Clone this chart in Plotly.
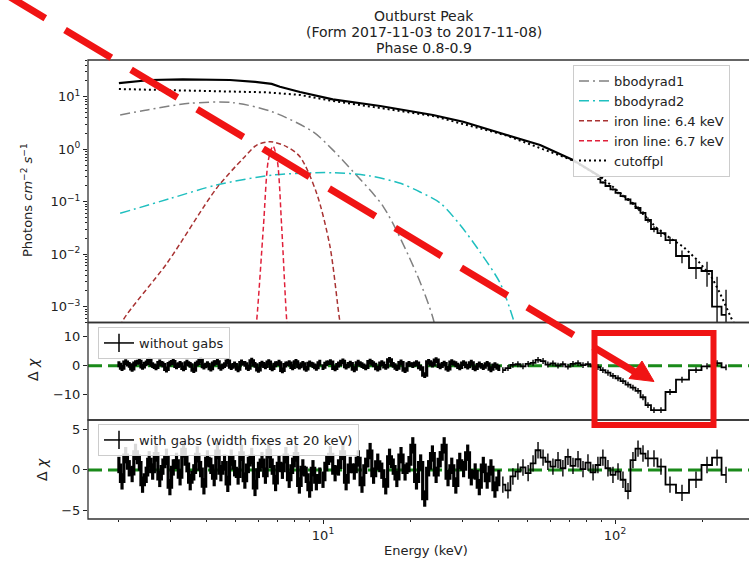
import plotly.graph_objects as go

# ---------------- data ----------------
# Top panel: model components (Energy keV -> photons cm^-2 s^-1)
total_E = [2.0, 2.56, 3.31, 4.8, 5.86, 6.67, 7.12, 8.34, 10.8, 15.7, 23.8, 30.2, 42.6, 55.4, 71.8, 90.9]
total_F = [18.2, 20.8, 21.4, 20.8, 19.1, 17.5, 15.5, 12.3, 8.9, 6.65, 4.48, 3.34, 1.86, 1.20, 0.622, 0.279]

cutoffpl_E = [2.0, 3.79, 6.42, 8.34, 10.8, 15.7, 23.8, 42.6, 71.8, 90.9, 115, 139, 154, 171, 191, 214, 229, 250, 268]
cutoffpl_F = [14.0, 12.85, 12.1, 10.8, 8.28, 6.10, 4.29, 1.82, 0.609, 0.277, 0.0925, 0.0316, 0.0204,
              0.014, 0.0078, 0.0037, 0.0018, 0.00061, 0.0003]

bb1_E = [2.02, 2.5, 3.5, 4.92, 6.67, 9.24, 10.8, 12.7, 16.1, 20.9, 23.8, 25.5]
bb1_F = [4.48, 5.6, 7.5, 7.7, 5.2, 2.15, 0.97, 0.37, 0.080, 0.0043, 0.00061, 0.0001]

bb2_E = [2.02, 3.0, 4.32, 6.76, 10.8, 14.5, 18.4, 21.5, 25.2, 29.5, 34.5, 40.4, 44.7, 47.3]
bb2_F = [0.060, 0.115, 0.208, 0.323, 0.357, 0.31, 0.224, 0.153, 0.0944, 0.036, 0.011, 0.00283, 0.00061, 0.0002]

fe64_E = [1.98, 2.07, 2.92, 4.32, 5.33, 5.93, 6.6, 7.5, 8.34, 9.51, 10.57, 11.4, 12.0]
fe64_F = [0.0003, 0.00056, 0.0067, 0.18, 0.67, 1.2, 1.39, 1.12, 0.72, 0.145, 0.0139, 0.00056, 0.0001]

fe67_E = [5.8, 5.93, 6.25, 6.5, 6.74, 6.97, 7.22, 7.51, 7.65]
fe67_F = [0.0002, 0.00056, 0.033, 0.62, 1.15, 0.62, 0.033, 0.00056, 0.0002]

# Top panel: high-energy data bins
hed_E = [87.4, 90.9, 94.6, 98.4, 102.4, 106.5, 110.8, 115.2, 119.9, 124.7, 129.7, 136.0, 143.7,
         154.3, 169.6, 189.4, 206.6, 223.6, 240.0]
hed_F = [0.27, 0.232, 0.199, 0.171, 0.147, 0.128, 0.110, 0.0925, 0.0759, 0.061, 0.0448, 0.0302, 0.0253,
         0.0186, 0.00925, 0.00546, 0.00479, 0.0010, 0.0007]
hed_err_hi = [0.01, 0.01, 0.009, 0.008, 0.008, 0.007, 0.007, 0.006, 0.006, 0.005, 0.005, 0.004, 0.004,
              0.003, 0.0025, 0.0023, 0.0024, 0.0027, 0.0014]
hed_err_lo = [0.01, 0.01, 0.009, 0.008, 0.008, 0.007, 0.007, 0.006, 0.006, 0.005, 0.005, 0.004, 0.004,
              0.003, 0.0025, 0.0021, 0.0024, 0.00099, 0.00069]

# Residual panels: energies of the bins
le_E = [2.00, 2.05, 2.11, 2.17, 2.22, 2.28, 2.35, 2.41, 2.48, 2.54, 2.61, 2.68, 2.76, 2.83, 2.91,
        2.99, 3.07, 3.15, 3.24, 3.33, 3.42, 3.51, 3.61, 3.71, 3.81, 3.91, 4.02, 4.13, 4.24, 4.35,
        4.47, 4.60, 4.72, 4.85, 4.98, 5.12, 5.26, 5.40, 5.55, 5.70, 5.85, 6.01, 6.18, 6.35, 6.52,
        6.70, 6.88, 7.07, 7.26, 7.46, 7.66, 7.87, 8.08, 8.30, 8.53, 8.76, 9.00, 9.24, 9.49, 9.75]
me_E = [10.0, 10.3, 10.6, 11.0, 11.3, 11.7, 12.0, 12.4, 12.8, 13.2, 13.6, 14.0, 14.5, 14.9, 15.4,
        15.9, 16.4, 16.9, 17.4, 17.9, 18.5, 19.1, 19.7, 20.3, 20.9, 21.6, 22.3, 23.0, 23.7, 24.4,
        25.2, 26.0, 26.8, 27.6, 28.5, 29.4, 30.3, 31.3, 32.2, 33.2, 34.3, 35.4, 36.5, 37.6, 38.8, 40.0]
he_E = [41.3, 43.0, 44.7, 46.5, 48.4, 50.4, 52.4, 54.5, 56.7, 58.9, 61.3, 63.8, 66.3, 69.0, 71.8,
        74.7, 77.7, 80.8, 84.1, 87.4, 90.9, 94.6, 98.4, 102.4, 106.5, 110.8, 115.2, 119.9, 124.7,
        129.7, 136.0, 143.7, 154.3, 169.6, 189.4, 206.6, 223.6, 240.0]

# Delta chi without gabs
res1_le = [0.5, -0.8, 1.2, 0.3, -1.1, 0.9, 1.5, -0.4, 0.8, 1.8, 0.2, -0.6, 1.1, 0.4, -1.3, 0.7, 1.4, -0.2,
           0.6, -0.9, 1.0, 0.3, -1.5, 0.8, 1.9, -0.3, 0.5, -1.0, 0.9, 1.3, -0.7, 0.2, 1.6, -0.5, 0.4, -1.2,
           1.1, 0.6, -0.8, 1.7, 0.3, -1.4, 0.7, -0.2, 1.2, -0.9, 0.5, 1.0, -1.6, 0.4, 0.9, -0.6, 1.3, -0.3,
           0.6, -1.1, 0.8, 0.2, -0.7, 1.0]
res1_me = [-0.5, 0.8, 1.2, -0.9, 0.4, 1.5, -0.3, 0.7, -1.2, 1.0, 0.2, -0.6, 1.4, 0.5, -1.0, 0.9, -0.4, 2.0,
           0.3, -0.8, 1.1, -1.5, 0.6, 0.2, 0.9, -0.7, -3.2, 1.3, 0.4, 1.9, -0.2, 0.7, -1.1, 1.2, 0.5, -0.6,
           0.9, -0.3, 1.0, -0.9, 0.4, -0.5, 0.6, -1.2, 0.2, -0.8]
res1_he = [-1.5, -0.8, 0.3, 0.5, -0.2, 0.6, 1.0, 2.0, 1.6, 0.4, 0.8, 0.0, 0.5, -0.3, 0.6, 0.9, 0.2, 0.5,
           -0.2, -0.5, -1.5, -2.4, -3.5, -4.3, -5.3, -6.5, -7.5, -8.6, -10.8, -13.5, -15.2, -15.2, -9.0,
           -4.8, -1.5, -0.2, 0.9, -0.6]

# Delta chi with gabs
res2_le = [0.6, -1.4, 1.8, 0.2, -0.5, 2.2, 0.9, -1.8, -0.6, 1.3,
           -0.2, 2.0, -1.1, 0.4, 1.6, -2.1, 0.3, 1.1, -0.9, 2.5,
           0.7, -1.5, -0.3, 1.9, 0.1, -2.0, 1.4, 0.5, -1.0, 2.3,
           -0.4, 0.9, -1.7, 1.5, 0.2, -0.8, 2.1, -1.3, 0.6, 1.7,
           -2.2, 0.0, 1.2, -0.7, 2.4, 0.4, -1.6, 0.8, -0.1, 1.8,
           -1.2, 0.5, 2.0, -1.9, 0.3, -0.6, -2.4, 0.2, -1.5, -0.7]
res2_me = [-1.2, 0.8, 1.9, -0.4, 0.3, 2.2, -1.5, 0.6, -0.2, 1.4,
           -1.8, 0.5, 2.3, -0.7, 1.0, -0.1, -2.0, 1.6, 0.4, -1.1,
           1.8, -0.3, 0.7, 3.0, -1.4, 0.9, -3.5, 0.2, 2.0, -0.6,
           1.3, 3.0, -1.0, 0.5, -1.9, 1.1, 0.1, 2.1, -0.9, -0.2,
           -2.1, 0.6, -1.3, 0.3, -2.4, -1.0]
res2_he = [-1.8, -2.5, -0.8, -0.2, 0.3, -0.4, 0.8, 2.4, 1.5, 1.0, 0.4, 1.2, 0.2, 1.6, 0.5, 1.3, 0.1, 0.9,
           -0.3, 0.6, 1.5, 0.2, -0.6, -0.2, -1.2, -2.6, 1.2, 2.6, 2.0, 1.4, 1.4, 0.4, -1.8, -2.8, -1.2, 0.6,
           1.5, -0.6]

title_lines = ["Outburst Peak", "(Form 2017-11-03 to 2017-11-08)", "Phase 0.8-0.9"]
top_ticks = [1e-3, 1e-2, 1e-1, 1, 10]
top_ticktext = ["10<sup>−3</sup>", "10<sup>−2</sup>", "10<sup>−1</sup>", "10<sup>0</sup>", "10<sup>1</sup>"]
x_ticks = [10, 100]
x_ticktext = ["10<sup>1</sup>", "10<sup>2</sup>"]

# ---------------- layout geometry ----------------
W, H = 749, 561
ML, MR, MT, MB = 88, 0, 60, 42
PW, PH = W - ML - MR, H - MT - MB
def px(x):  # pixel -> paper x
    return (x - ML) / PW
def py(y):  # pixel -> paper y
    return (H - MB - y) / PH

dom_top = [py(322.5), 1.0]
dom_mid = [py(420), py(322.5)]
dom_bot = [0.0, py(420)]
XR = [0.1952, 2.4589]
FONT = "DejaVu Sans"
INK = "#222222"

fig = go.Figure()

def add_line(x, y, name, color, dash, width=1.5, shape="spline", legend=True):
    fig.add_trace(go.Scatter(x=x, y=y, name=name, mode="lines",
                             line=dict(color=color, dash=dash, width=width, shape=shape, smoothing=0.8),
                             showlegend=legend, legend="legend", xaxis="x", yaxis="y",
                             hoverinfo="skip"))

add_line(total_E, total_F, "model", "black", "solid", width=2.2, shape="linear", legend=False)
add_line(bb1_E, bb1_F, "bbodyrad1", "#808080", "10px,4px,2px,4px")
add_line(bb2_E, bb2_F, "bbodyrad2", "#1fbfbf", "10px,4px,2px,4px")
add_line(fe64_E, fe64_F, "iron line: 6.4 keV", "#a83232", "5px,3px")
add_line(fe67_E, fe67_F, "iron line: 6.7 keV", "#e0203a", "5px,3px")
add_line(cutoffpl_E, cutoffpl_F, "cutoffpl", "black", "2px,3px", width=2, shape="linear")

fig.add_trace(go.Scatter(x=hed_E, y=hed_F, mode="lines", showlegend=False,
                         line=dict(color="black", width=1.8, shape="hvh"),
                         error_y=dict(type="data", array=hed_err_hi, arrayminus=hed_err_lo,
                                      color="black", thickness=1.3, width=0),
                         xaxis="x", yaxis="y", hoverinfo="skip"))

def add_resid(E, R, xa, ya, lw, ew):
    fig.add_trace(go.Scatter(x=E, y=R, mode="lines", showlegend=False,
                             line=dict(color="black", width=lw, shape="hvh"),
                             error_y=dict(type="constant", value=1, color="black", thickness=ew, width=0),
                             xaxis=xa, yaxis=ya, hoverinfo="skip"))

for E, R, lw, ew in [(le_E, res1_le, 3.2, 3.0), (me_E, res1_me, 3.2, 3.0), (he_E, res1_he, 1.8, 1.4)]:
    add_resid(E, R, "x2", "y2", lw, ew)
for E, R, lw, ew in [(le_E, res2_le, 3.2, 3.2), (me_E, res2_me, 3.2, 3.2), (he_E, res2_he, 1.8, 1.4)]:
    add_resid(E, R, "x3", "y3", lw, ew)

# legend-only entries for residual panels
for name, lg, xa, ya in [("without gabs", "legend2", "x2", "y2"),
                         ("with gabs (width fixes at 20 keV)", "legend3", "x3", "y3")]:
    fig.add_trace(go.Scatter(x=[None], y=[None], mode="lines+markers", name=name, legend=lg,
                             line=dict(color="black", width=1.5),
                             marker=dict(symbol="line-ns", size=13, color="black",
                                         line=dict(width=1.5, color="black")),
                             xaxis=xa, yaxis=ya))

tickfont = dict(family=FONT, size=13, color=INK)
xcommon = dict(type="log", range=XR, showgrid=False, zeroline=False, showline=False, domain=[0, 1])
x_minor = [2, 3, 4, 5, 6, 7, 8, 9, 20, 30, 40, 50, 60, 70, 80, 90, 200]
y_minor = [m * 10.0 ** k for k in range(-4, 2) for m in range(2, 10)]

legend_style = dict(bgcolor="rgba(255,255,255,0.85)", bordercolor="#cccccc", borderwidth=1,
                    font=dict(family=FONT, size=13, color=INK), xanchor="left", yanchor="top",
                    tracegroupgap=0, itemwidth=30, itemclick=False)

fig.update_layout(
    width=W, height=H, margin=dict(l=ML, r=MR, t=MT, b=MB),
    paper_bgcolor="white", plot_bgcolor="white",
    font=dict(family=FONT, size=13, color=INK),
    xaxis=dict(**xcommon, anchor="y", showticklabels=False, ticks=""),
    xaxis2=dict(**xcommon, anchor="y2", matches="x", showticklabels=False, ticks=""),
    xaxis3=dict(**xcommon, anchor="y3", matches="x", tickmode="array", tickvals=x_ticks,
                ticktext=x_ticktext, ticks="outside", ticklen=4, tickwidth=1, tickcolor=INK,
                tickfont=tickfont,
                minor=dict(tickmode="array", tickvals=x_minor, ticks="outside", ticklen=2,
                           tickwidth=1, tickcolor=INK)),
    yaxis=dict(type="log", domain=dom_top, range=[-3.301, 1.699], anchor="x", showgrid=False,
               zeroline=False, showline=False, tickmode="array", tickvals=top_ticks,
               ticktext=top_ticktext, ticks="outside", ticklen=4, tickwidth=1, tickcolor=INK,
               tickfont=tickfont,
               minor=dict(tickmode="array", tickvals=y_minor, ticks="outside", ticklen=2,
                          tickwidth=1, tickcolor=INK)),
    yaxis2=dict(domain=dom_mid, range=[-18.6, 14.8], anchor="x2", showgrid=False, zeroline=False,
                showline=False, tickmode="array", tickvals=[-10, 0, 10], ticks="outside", ticklen=4,
                tickwidth=1, tickcolor=INK, tickfont=tickfont),
    yaxis3=dict(domain=dom_bot, range=[-6.0, 6.1], anchor="x3", showgrid=False, zeroline=False,
                showline=False, tickmode="array", tickvals=[-5, 0, 5], ticks="outside", ticklen=4,
                tickwidth=1, tickcolor=INK, tickfont=tickfont),
    legend=dict(**legend_style, x=px(573), y=py(65)),
    legend2=dict(**legend_style, x=px(98), y=py(327)),
    legend3=dict(**legend_style, x=px(98), y=py(424)),
    showlegend=True,
)

shapes = []
# zero reference lines in residual panels
for ya in ["y2", "y3"]:
    shapes.append(dict(type="line", xref="paper", yref=ya, x0=0, x1=1, y0=0, y1=0, layer="below",
                       line=dict(color="#1a8a1a", width=3, dash="14px,6px")))
# panel frames (right side runs off the picture)
for d in [dom_top, dom_mid, dom_bot]:
    shapes.append(dict(type="rect", xref="paper", yref="paper", x0=0, x1=1.05, y0=d[0], y1=d[1],
                       line=dict(color="#333333", width=1.3), fillcolor="rgba(0,0,0,0)", layer="above"))
# red highlight: dashed arrow + box
shapes.append(dict(type="line", xref="paper", yref="paper", x0=px(-1), y0=py(-9.6), x1=px(640), y1=py(375),
                   line=dict(color="#f01414", width=7, dash="54px,23px")))
tip, c1, c2 = (654, 381.5), (629, 378.5), (642, 361)
shapes.append(dict(type="path", xref="paper", yref="paper",
                   path="M {} {} L {} {} L {} {} Z".format(px(tip[0]), py(tip[1]), px(c1[0]), py(c1[1]),
                                                          px(c2[0]), py(c2[1])),
                   fillcolor="#f01414", line=dict(color="#f01414", width=1)))
shapes.append(dict(type="rect", xref="paper", yref="paper", x0=px(594.5), x1=px(713.5), y0=py(425),
                   y1=py(333), line=dict(color="#f01414", width=6), fillcolor="rgba(0,0,0,0)"))
fig.update_layout(shapes=shapes)

ann = []
for i, t in enumerate(title_lines):
    ann.append(dict(text=t, xref="paper", yref="paper", x=px(424), y=py(16.5 + 15.5 * i),
                    xanchor="center", yanchor="middle", showarrow=False,
                    font=dict(family=FONT, size=14, color=INK)))
ann.append(dict(text="Energy (keV)", xref="paper", yref="paper", x=px(426), y=py(550),
                xanchor="center", yanchor="middle", showarrow=False, font=dict(family=FONT, size=13, color=INK)))
ann.append(dict(text="Photons <i>cm</i><sup>−2</sup> <i>s</i><sup>−1</sup>", xref="paper", yref="paper",
                x=px(27), y=py(200), xanchor="center", yanchor="middle", textangle=-90, showarrow=False,
                font=dict(family=FONT, size=13, color=INK)))
ann.append(dict(text="Δ <i>χ</i>", xref="paper", yref="paper", x=px(33), y=py(370),
                xanchor="center", yanchor="middle", textangle=-90, showarrow=False,
                font=dict(family=FONT, size=14, color=INK)))
ann.append(dict(text="Δ <i>χ</i>", xref="paper", yref="paper", x=px(42), y=py(470),
                xanchor="center", yanchor="middle", textangle=-90, showarrow=False,
                font=dict(family=FONT, size=14, color=INK)))
fig.update_layout(annotations=ann)

fig.write_html("out.html", config={"displayModeBar": False},
               post_script="document.body.style.margin='0px';")
